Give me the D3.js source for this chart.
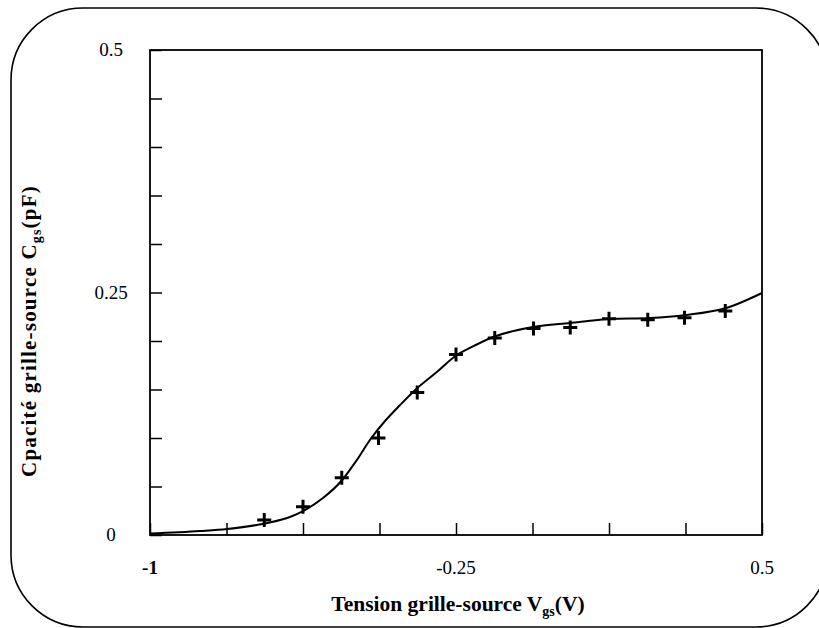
<!DOCTYPE html>
<html>
<head>
<meta charset="utf-8">
<script src="https://cdn.jsdelivr.net/npm/d3@7"></script>
<style>
  body { margin: 0; background: #fff; }
  text { font-family: "Liberation Serif", "DejaVu Serif", serif; fill: #000; }
</style>
</head>
<body>
<div id="chart"></div>
<script>
// measured points (crosses)
const measVgs = [-0.72, -0.625, -0.53, -0.44, -0.345, -0.25, -0.155, -0.06, 0.03, 0.125, 0.22, 0.31, 0.41];
const measCgs = [0.0155, 0.029, 0.059, 0.100, 0.147, 0.186, 0.203, 0.213, 0.214, 0.223, 0.222, 0.224, 0.231];

// model curve
const modelVgs = [-1, -0.877, -0.811, -0.713, -0.657, -0.625, -0.576, -0.529, -0.493, -0.461, -0.424, -0.387,
                  -0.35, -0.297, -0.248, -0.216, -0.159, -0.061, 0.029, 0.127, 0.225, 0.314, 0.412, 0.5];
const modelCgs = [0.0015, 0.0041, 0.0062, 0.0124, 0.0186, 0.0247, 0.0381, 0.0567, 0.0773, 0.0979, 0.1175, 0.134,
                  0.1495, 0.168, 0.1856, 0.1928, 0.2041, 0.2144, 0.2186, 0.2227, 0.2237, 0.2268, 0.234, 0.2495];

const xTickVals = [-1, -0.8125, -0.625, -0.4375, -0.25, -0.0625, 0.125, 0.3125, 0.5];
const xLabels = [-1, -0.25, 0.5];
const yTickVals = [0, 0.05, 0.1, 0.15, 0.2, 0.25, 0.3, 0.35, 0.4, 0.45, 0.5];
const yLabels = [0, 0.25, 0.5];

const W = 819, H = 628;
const plot = { left: 150, right: 762, top: 50, bottom: 535 };

const svg = d3.select("#chart").append("svg")
    .attr("width", W)
    .attr("height", H);

// rounded outer frame (runs off the right/bottom edge)
svg.append("rect")
    .attr("x", 11).attr("y", 8)
    .attr("width", 817).attr("height", 619)
    .attr("rx", 72).attr("ry", 72)
    .attr("fill", "none")
    .attr("stroke", "#000")
    .attr("stroke-width", 1.6);

const x = d3.scaleLinear().domain([-1, 0.5]).range([plot.left, plot.right]);
const y = d3.scaleLinear().domain([0, 0.5]).range([plot.bottom, plot.top]);

// plot box
svg.append("rect")
    .attr("x", plot.left).attr("y", plot.top)
    .attr("width", plot.right - plot.left)
    .attr("height", plot.bottom - plot.top)
    .attr("fill", "none")
    .attr("stroke", "#000")
    .attr("stroke-width", 1.8);

const xAxis = d3.axisBottom(x).tickValues(xTickVals).tickSize(-12).tickFormat("");
const yAxis = d3.axisLeft(y).tickValues(yTickVals).tickSize(-12).tickFormat("");

svg.append("g")
    .attr("transform", "translate(0," + plot.bottom + ")")
    .call(xAxis)
    .call(g => g.select(".domain").remove())
    .selectAll("line").attr("stroke-width", 1.5);

svg.append("g")
    .attr("transform", "translate(" + plot.left + ",0)")
    .call(yAxis)
    .call(g => g.select(".domain").remove())
    .selectAll("line").attr("stroke-width", 1.5);

// tick labels
svg.selectAll(".xlab").data(xLabels).enter().append("text")
    .attr("class", "xlab")
    .attr("x", d => x(d))
    .attr("y", 574)
    .attr("text-anchor", "middle")
    .attr("font-size", 19)
    .attr("font-weight", d => d === -1 ? "bold" : "normal")
    .text(d => d);

svg.selectAll(".ylab").data(yLabels).enter().append("text")
    .attr("class", "ylab")
    .attr("x", 111)
    .attr("y", d => y(d) + 6)
    .attr("text-anchor", "middle")
    .attr("font-size", 19)
    .text(d => d);

// model curve
const line = d3.line()
    .x(d => x(d[0]))
    .y(d => y(d[1]))
    .curve(d3.curveMonotoneX);

svg.append("path")
    .datum(modelVgs.map((v, i) => [v, modelCgs[i]]))
    .attr("d", line)
    .attr("fill", "none")
    .attr("stroke", "#000")
    .attr("stroke-width", 2);

// crosses
const cross = 7;
const pts = svg.append("g").selectAll("g")
    .data(measVgs.map((v, i) => [v, measCgs[i]]))
    .enter().append("g")
    .attr("transform", d => "translate(" + x(d[0]) + "," + y(d[1]) + ")");
pts.append("path")
    .attr("d", "M" + (-cross) + ",0H" + cross + "M0," + (-cross) + "V" + cross)
    .attr("stroke", "#000")
    .attr("stroke-width", 3);

// axis titles
const xt = svg.append("text")
    .attr("x", 458).attr("y", 611)
    .attr("text-anchor", "middle")
    .attr("font-size", 21.5)
    .attr("font-weight", "bold");
xt.append("tspan").text("Tension grille-source V");
xt.append("tspan").attr("font-size", 14).attr("dy", 5).text("gs");
xt.append("tspan").attr("dy", -5).text("(V)");

const yt = svg.append("text")
    .attr("transform", "translate(36,331) rotate(-90)")
    .attr("text-anchor", "middle")
    .attr("font-size", 21)
    .attr("letter-spacing", 1.2)
    .attr("font-weight", "bold");
yt.append("tspan").text("Cpacité grille-source C");
yt.append("tspan").attr("font-size", 14).attr("dy", 5).text("gs");
yt.append("tspan").attr("dy", -5).text("(pF)");
</script>
</body>
</html>
